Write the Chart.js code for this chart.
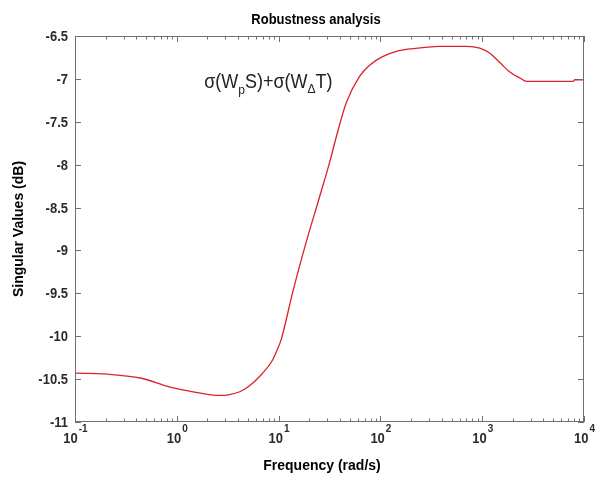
<!DOCTYPE html>
<html>
<head>
<meta charset="utf-8">
<script src="https://cdn.jsdelivr.net/npm/chart.js@4.4.1/dist/chart.umd.min.js"></script>
<style>
  html, body { margin: 0; padding: 0; background: #fff; }
  #wrap { width: 595px; height: 477px; }
</style>
</head>
<body>
<div id="wrap"><canvas id="myChart" width="595" height="477"></canvas></div>
<script>
// frequency (rad/s) and singular value (dB)
const freq = [0.1, 0.2, 0.45, 0.84, 1.33, 2.08, 2.68, 3.28, 4.1, 5.15, 6.5, 8.7, 9.6, 10.6, 13.8, 18.7, 25.2, 31.6, 36.8, 46.1, 62.4, 78.3, 105, 144, 200, 383, 700, 946, 1188, 1490, 1870, 2345, 2730, 4000, 7780, 8140, 10000];
const singVal = [-10.43, -10.44, -10.49, -10.59, -10.64, -10.68, -10.69, -10.68, -10.65, -10.58, -10.47, -10.28, -10.17, -10.04, -9.48, -8.90, -8.38, -7.98, -7.68, -7.28, -6.97, -6.84, -6.74, -6.68, -6.65, -6.62, -6.62, -6.64, -6.70, -6.81, -6.92, -6.99, -7.03, -7.03, -7.03, -7.01, -7.01];

const yTicks = [-6.5, -7, -7.5, -8, -8.5, -9, -9.5, -10, -10.5, -11];
const xDecades = [-1, 0, 1, 2, 3, 4];

const titleText = 'Robustness analysis';
const xTitle = 'Frequency (rad/s)';
const yTitle = 'Singular Values (dB)';

const axisCol = '#707070';
const labelCol = '#2b2b2b';
const FONT = '"Liberation Sans", Arial, sans-serif';

// text is a bit taller than wide in the reference
function txt(ctx, s, x, y, font, align, color) {
    ctx.save();
    ctx.translate(x, y);
    ctx.scale(1, 1.08);
    ctx.font = font;
    ctx.textAlign = align;
    ctx.textBaseline = 'alphabetic';
    ctx.fillStyle = color;
    ctx.fillText(s, 0, 0);
    ctx.restore();
}

const matlabAxes = {
    id: 'matlabAxes',
    afterDraw(chart) {
        const ctx = chart.ctx;
        const a = chart.chartArea;
        const xs = chart.scales.x;
        const ys = chart.scales.y;

        ctx.save();
        ctx.strokeStyle = axisCol;
        ctx.lineWidth = 1;
        ctx.strokeRect(a.left + 0.5, a.top + 0.5, a.right - a.left - 1, a.bottom - a.top - 1);

        // x ticks, inward, bottom and top
        ctx.beginPath();
        xDecades.forEach(e => {
            for (let k = 1; k <= 9; k++) {
                const v = k * Math.pow(10, e);
                if (v > xs.max * 1.0001) break;
                const px = Math.round(xs.getPixelForValue(v)) + 0.5;
                const len = k === 1 ? 6 : 3.5;
                ctx.moveTo(px, a.bottom);
                ctx.lineTo(px, a.bottom - len);
                ctx.moveTo(px, a.top);
                ctx.lineTo(px, a.top + len);
            }
        });
        // y ticks, left and right
        yTicks.forEach(t => {
            const py = Math.round(ys.getPixelForValue(t)) + 0.5;
            ctx.moveTo(a.left, py);
            ctx.lineTo(a.left + 6, py);
            ctx.moveTo(a.right, py);
            ctx.lineTo(a.right - 6, py);
        });
        ctx.stroke();

        // y tick labels
        yTicks.forEach(t => {
            const py = ys.getPixelForValue(t);
            txt(ctx, String(t), a.left - 7, py + 5, 'bold 13px ' + FONT, 'right', labelCol);
        });

        // x tick labels 10^e
        xDecades.forEach(e => {
            const px = xs.getPixelForValue(Math.pow(10, e));
            ctx.font = 'bold 13px ' + FONT;
            const w1 = ctx.measureText('10').width;
            ctx.font = 'bold 10px ' + FONT;
            const w2 = ctx.measureText(String(e)).width;
            const x0 = px - (w1 + w2) / 2;
            txt(ctx, '10', x0, a.bottom + 21, 'bold 13px ' + FONT, 'left', labelCol);
            txt(ctx, String(e), x0 + w1 + 1, a.bottom + 10, 'bold 10px ' + FONT, 'left', labelCol);
        });

        // titles
        txt(ctx, titleText, 316, 24, 'bold 13px ' + FONT, 'center', '#000');
        txt(ctx, xTitle, 322, 470, 'bold 14px ' + FONT, 'center', '#000');
        ctx.save();
        ctx.translate(23, (a.top + a.bottom) / 2);
        ctx.rotate(-Math.PI / 2);
        ctx.font = 'bold 14px ' + FONT;
        ctx.textAlign = 'center';
        ctx.fillStyle = '#000';
        ctx.fillText(yTitle, 0, 0);
        ctx.restore();

        // annotation sigma(Wp S) + sigma(W_delta T)
        let ax = xs.getPixelForValue(1.86);
        const ay = ys.getPixelForValue(-7.106);
        const big = '18px ' + FONT;
        const small = '12px ' + FONT;
        const parts = [['σ(W', big, 0], ['p', small, 6], ['S)+σ(W', big, 0], ['Δ', small, 5], ['T)', big, 0]];
        parts.forEach(p => {
            ctx.font = p[1];
            const w = ctx.measureText(p[0]).width;
            txt(ctx, p[0], ax, ay + p[2], p[1], 'left', '#222');
            ax += w;
        });
        ctx.restore();
    }
};

const ctx = document.getElementById('myChart');

new Chart(ctx, {
    type: 'line',
    data: {
        datasets: [{
            data: freq.map((f, i) => ({ x: f, y: singVal[i] })),
            borderColor: '#d8232a',
            borderWidth: 1.3,
            pointRadius: 0,
            fill: false,
            cubicInterpolationMode: 'monotone'
        }]
    },
    options: {
        responsive: false,
        animation: false,
        layout: { padding: { left: 75, right: 11, top: 36, bottom: 55 } },
        scales: {
            x: { type: 'logarithmic', min: 0.1, max: 10000, display: false },
            y: { type: 'linear', min: -11, max: -6.5, display: false }
        },
        plugins: {
            legend: { display: false },
            tooltip: { enabled: false }
        }
    },
    plugins: [matlabAxes]
});
</script>
</body>
</html>
